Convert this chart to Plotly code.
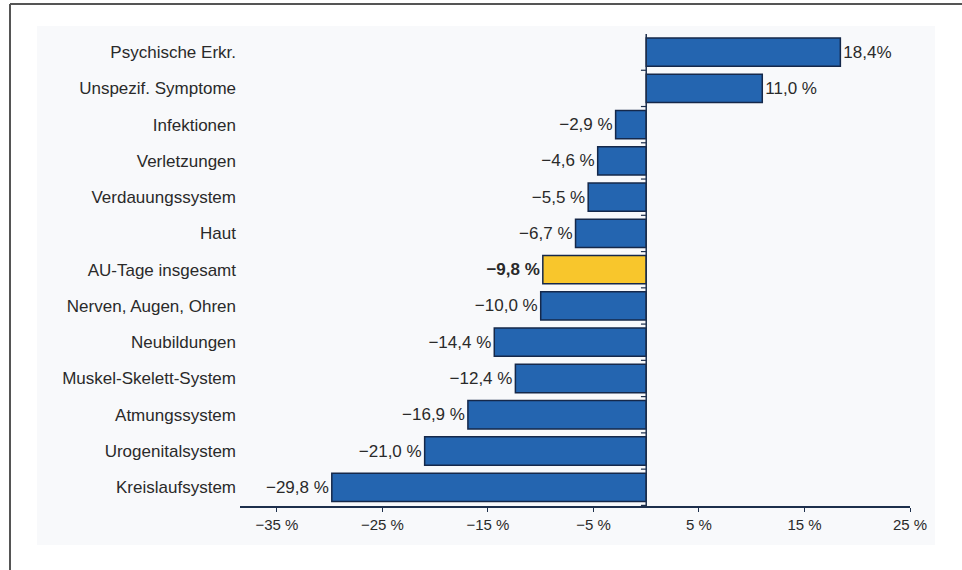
import plotly.graph_objects as go

categories = ["Psychische Erkr.", "Unspezif. Symptome", "Infektionen", "Verletzungen",
              "Verdauungssystem", "Haut", "AU-Tage insgesamt", "Nerven, Augen, Ohren",
              "Neubildungen", "Muskel-Skelett-System", "Atmungssystem",
              "Urogenitalsystem", "Kreislaufsystem"]
values = [18.4, 11.0, -2.9, -4.6, -5.5, -6.7, -9.8, -10.0, -14.4, -12.4, -16.9, -21.0, -29.8]
labels = ["18,4%", "11,0 %", "\u22122,9 %", "\u22124,6 %", "\u22125,5 %", "\u22126,7 %",
          "<b>\u22129,8 %</b>", "\u221210,0 %", "\u221214,4 %", "\u221212,4 %",
          "\u221216,9 %", "\u221221,0 %", "\u221229,8 %"]
tick_vals = [-35, -25, -15, -5, 5, 15, 25]
tick_text = ["\u221235 %", "\u221225 %", "\u221215 %", "\u22125 %", "5 %", "15 %", "25 %"]

colors = ["#f8c62c" if c == "AU-Tage insgesamt" else "#2465b0" for c in categories]

W, H = 962, 570
L, R, T, B = 240, 52, 34, 64
pw, ph = W - L - R, H - T - B

def px(x):
    return (x - L) / pw

def py(y):
    return (H - B - y) / ph

FONT = "Liberation Sans, Arial, sans-serif"

fig = go.Figure(go.Bar(
    x=values, y=categories, orientation="h",
    marker=dict(color=colors, line=dict(color="#15284a", width=1.5)),
    text=labels, textposition="outside",
    textfont=dict(family=FONT, size=17, color="#2a2a2a"),
    cliponaxis=False,
))

shapes = [
    dict(type="rect", xref="paper", yref="paper", x0=px(37), x1=px(935), y0=py(545), y1=py(26),
         fillcolor="#f8f9fb", line=dict(width=0), layer="below"),
    dict(type="line", xref="paper", yref="paper", x0=px(10), x1=px(975), y0=py(4), y1=py(4),
         line=dict(color="#555555", width=2)),
    dict(type="line", xref="paper", yref="paper", x0=px(10), x1=px(10), y0=py(4), y1=py(580),
         line=dict(color="#555555", width=2)),
    dict(type="line", xref="x", yref="paper", x0=0, x1=0, y0=0, y1=1,
         line=dict(color="#1d2f4c", width=1.5)),
]
n = len(categories)
for i in range(n):
    yb = i - 0.5
    shapes.append(dict(type="line", xref="x", yref="y", x0=-0.5, x1=0, y0=yb, y1=yb,
                       line=dict(color="#1d2f4c", width=1.2)))

fig.update_layout(
    width=W, height=H,
    margin=dict(l=L, r=R, t=T, b=B),
    paper_bgcolor="white", plot_bgcolor="rgba(0,0,0,0)",
    showlegend=False,
    bargap=0.22,
    font=dict(family=FONT, size=17, color="#2a2a2a"),
    xaxis=dict(range=[-38.5, 25], tickvals=tick_vals, ticktext=tick_text,
               showgrid=False, zeroline=False, showline=True, linecolor="#1d2f4c", linewidth=1.5,
               ticks="outside", tickcolor="#1d2f4c", ticklen=4, tickfont=dict(size=15)),
    yaxis=dict(categoryorder="array", categoryarray=categories[::-1],
               showgrid=False, zeroline=False, showline=False, ticks="",
               ticklabelstandoff=3, tickfont=dict(size=17)),
    shapes=shapes,
)

fig.write_html("out.html")
